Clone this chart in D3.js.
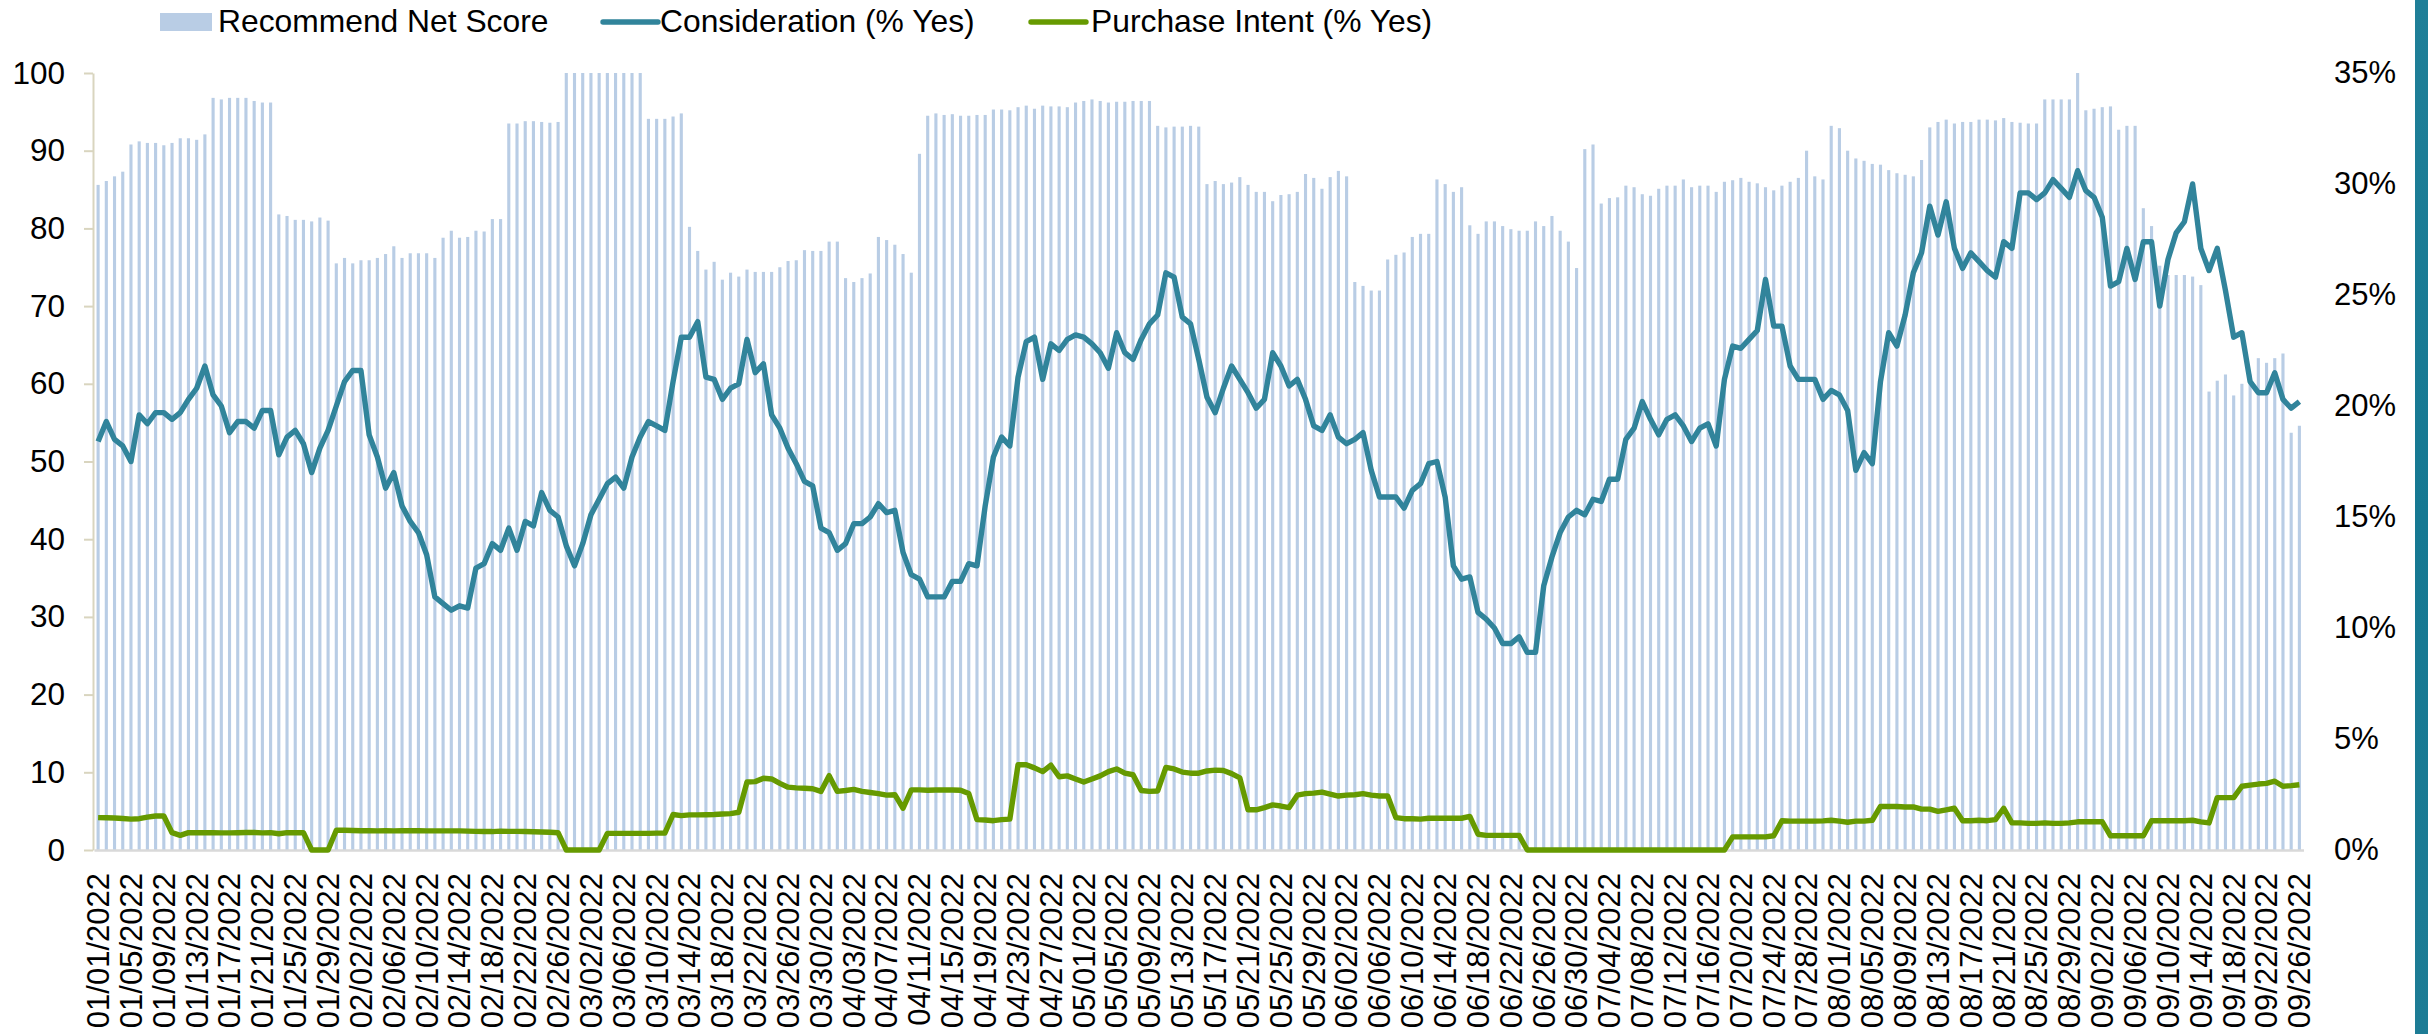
<!DOCTYPE html>
<html>
<head>
<meta charset="utf-8">
<script src="https://cdn.jsdelivr.net/npm/d3@7"></script>
<style>
  html, body { margin: 0; padding: 0; background: #fff; }
  svg { display: block; font-family: "Liberation Sans", Arial, sans-serif; }
</style>
</head>
<body>
<svg class="mySVG" width="2428" height="1034"></svg>
<script>
// daily categories, 01/01/2022 .. 09/26/2022
const days = d3.timeDay.range(new Date(2022, 0, 1), new Date(2022, 8, 27));

const recommend = [
  85.6, 86.1, 86.7, 87.3, 90.8, 91.2, 91.0, 91.0, 90.7, 91.0,
  91.6, 91.6, 91.4, 92.1, 96.8, 96.6, 96.8, 96.8, 96.8, 96.4,
  96.2, 96.2, 81.8, 81.6, 81.1, 81.1, 80.9, 81.4, 81.0, 75.5,
  76.2, 75.5, 75.9, 75.9, 76.2, 76.7, 77.7, 76.2, 76.8, 76.8,
  76.8, 76.2, 78.8, 79.7, 78.8, 78.9, 79.7, 79.6, 81.2, 81.2,
  93.5, 93.5, 93.8, 93.8, 93.7, 93.6, 93.7, 100, 100, 100,
  100, 100, 100, 100, 100, 100, 100, 94.1, 94.1, 94.1,
  94.4, 94.8, 80.2, 77.1, 74.7, 75.7, 73.4, 74.3, 73.8, 74.7,
  74.4, 74.4, 74.4, 75.0, 75.8, 75.9, 77.2, 77.1, 77.1, 78.3,
  78.3, 73.6, 73.1, 73.6, 74.2, 78.9, 78.5, 77.9, 76.7, 74.3,
  89.6, 94.5, 94.8, 94.6, 94.7, 94.5, 94.5, 94.6, 94.6, 95.3,
  95.3, 95.2, 95.6, 95.8, 95.4, 95.8, 95.7, 95.7, 95.6, 96.2,
  96.4, 96.6, 96.4, 96.2, 96.3, 96.3, 96.4, 96.4, 96.4, 93.2,
  93.0, 93.1, 93.1, 93.2, 93.1, 85.7, 86.1, 85.7, 85.9, 86.6,
  85.6, 84.7, 84.7, 83.5, 84.3, 84.4, 84.7, 87.0, 86.5, 85.1,
  86.6, 87.4, 86.7, 73.1, 72.6, 72.0, 72.0, 76.0, 76.6, 76.9,
  78.9, 79.3, 79.3, 86.3, 85.7, 84.7, 85.3, 80.4, 79.3, 80.9,
  80.9, 80.3, 79.9, 79.7, 79.7, 80.9, 80.3, 81.6, 79.7, 78.3,
  74.9, 90.2, 90.8, 83.2, 83.9, 84.0, 85.5, 85.3, 84.4, 84.2,
  85.1, 85.5, 85.5, 86.3, 85.3, 85.5, 85.5, 84.7, 86.0, 86.2,
  86.5, 86.0, 85.8, 85.3, 84.9, 85.5, 86.0, 86.5, 90.0, 86.7,
  86.3, 93.2, 92.9, 90.0, 89.0, 88.7, 88.3, 88.2, 87.5, 87.1,
  86.9, 86.7, 88.8, 93.0, 93.7, 94.0, 93.5, 93.7, 93.7, 94.0,
  94.0, 93.9, 94.2, 93.7, 93.6, 93.5, 93.5, 96.6, 96.6, 96.6,
  96.6, 100, 95.2, 95.4, 95.6, 95.7, 92.7, 93.2, 93.2, 82.6,
  80.3, 75.2, 74.0, 74.0, 74.0, 73.8, 72.7, 59.0, 60.4, 61.2,
  58.5, 60.0, 61.2, 63.3, 62.7, 63.3, 63.9, 53.7, 54.6
];

// % yes
const consideration = [
  18.4, 19.3, 18.5, 18.2, 17.5, 19.6, 19.2, 19.7, 19.7, 19.4,
  19.7, 20.3, 20.8, 21.8, 20.5, 20.0, 18.8, 19.3, 19.3, 19.0,
  19.8, 19.8, 17.8, 18.6, 18.9, 18.3, 17.0, 18.1, 18.9, 20.0,
  21.1, 21.6, 21.6, 18.7, 17.7, 16.3, 17.0, 15.5, 14.8, 14.3,
  13.3, 11.4, 11.1, 10.8, 11.0, 10.9, 12.7, 12.9, 13.8, 13.5,
  14.5, 13.5, 14.8, 14.6, 16.1, 15.3, 15.0, 13.7, 12.8, 13.8,
  15.1, 15.8, 16.5, 16.8, 16.3, 17.7, 18.6, 19.3, 19.1, 18.9,
  21.1, 23.1, 23.1, 23.8, 21.3, 21.2, 20.3, 20.8, 21.0, 23.0,
  21.5, 21.9, 19.6, 19.0, 18.1, 17.4, 16.6, 16.4, 14.5, 14.3,
  13.5, 13.8, 14.7, 14.7, 15.0, 15.6, 15.2, 15.3, 13.4, 12.4,
  12.2, 11.4, 11.4, 11.4, 12.1, 12.1, 12.9, 12.8, 15.5, 17.7,
  18.6, 18.2, 21.3, 22.9, 23.1, 21.2, 22.8, 22.5, 23.0, 23.2,
  23.1, 22.8, 22.4, 21.7, 23.3, 22.4, 22.1, 23.0, 23.7, 24.1,
  26.0, 25.8, 24.0, 23.7, 22.1, 20.4, 19.7, 20.8, 21.8, 21.2,
  20.6, 19.9, 20.3, 22.4, 21.8, 20.9, 21.2, 20.3, 19.1, 18.9,
  19.6, 18.6, 18.3, 18.5, 18.8, 17.1, 15.9, 15.9, 15.9, 15.4,
  16.2, 16.5, 17.4, 17.5, 15.9, 12.8, 12.2, 12.3, 10.7, 10.4,
  10.0, 9.3, 9.3, 9.6, 8.9, 8.9, 11.9, 13.2, 14.3, 15.0,
  15.3, 15.1, 15.8, 15.7, 16.7, 16.7, 18.5, 19.0, 20.2, 19.4,
  18.7, 19.4, 19.6, 19.1, 18.4, 19.0, 19.2, 18.2, 21.2, 22.7,
  22.6, 23.0, 23.4, 25.7, 23.6, 23.6, 21.8, 21.2, 21.2, 21.2,
  20.3, 20.7, 20.5, 19.8, 17.1, 17.9, 17.4, 21.1, 23.3, 22.7,
  24.1, 26.0, 26.9, 29.0, 27.7, 29.2, 27.1, 26.2, 26.9, 26.5,
  26.1, 25.8, 27.4, 27.1, 29.6, 29.6, 29.3, 29.6, 30.2, 29.8,
  29.4, 30.6, 29.7, 29.4, 28.5, 25.4, 25.6, 27.1, 25.7, 27.4,
  27.4, 24.5, 26.6, 27.8, 28.3, 30.0, 27.1, 26.1, 27.1, 25.2,
  23.1, 23.3, 21.1, 20.6, 20.6, 21.5, 20.3, 19.9, 20.2
];

const purchase = [
  1.46, 1.45, 1.44, 1.42, 1.39, 1.41, 1.48, 1.53, 1.53, 0.78,
  0.66, 0.78, 0.78, 0.78, 0.78, 0.77, 0.77, 0.78, 0.79, 0.79,
  0.77, 0.78, 0.73, 0.78, 0.78, 0.78, 0, 0, 0, 0.89,
  0.89, 0.88, 0.87, 0.87, 0.86, 0.87, 0.86, 0.87, 0.87, 0.87,
  0.86, 0.86, 0.86, 0.86, 0.86, 0.85, 0.84, 0.83, 0.83, 0.85,
  0.84, 0.84, 0.83, 0.82, 0.81, 0.80, 0.78, 0, 0, 0,
  0, 0, 0.75, 0.75, 0.75, 0.75, 0.75, 0.75, 0.76, 0.76,
  1.60, 1.55, 1.58, 1.58, 1.59, 1.60, 1.62, 1.64, 1.70, 3.06,
  3.08, 3.23, 3.20, 3.00, 2.83, 2.80, 2.78, 2.76, 2.64, 3.35,
  2.64, 2.68, 2.73, 2.64, 2.59, 2.54, 2.47, 2.49, 1.88, 2.71,
  2.71, 2.69, 2.70, 2.70, 2.70, 2.69, 2.54, 1.37, 1.35, 1.32,
  1.37, 1.39, 3.84, 3.84, 3.70, 3.53, 3.82, 3.30, 3.34, 3.20,
  3.06, 3.20, 3.34, 3.53, 3.65, 3.46, 3.39, 2.68, 2.64, 2.66,
  3.72, 3.65, 3.51, 3.46, 3.46, 3.56, 3.60, 3.58, 3.44, 3.25,
  1.81, 1.81, 1.91, 2.03, 1.98, 1.91, 2.47, 2.54, 2.56, 2.61,
  2.52, 2.43, 2.47, 2.49, 2.54, 2.47, 2.43, 2.43, 1.46, 1.41,
  1.41, 1.39, 1.43, 1.43, 1.43, 1.43, 1.43, 1.51, 0.71, 0.66,
  0.66, 0.66, 0.66, 0.66, 0, 0, 0, 0, 0, 0,
  0, 0, 0, 0, 0, 0, 0, 0, 0, 0,
  0, 0, 0, 0, 0, 0, 0, 0, 0, 0.59,
  0.59, 0.59, 0.59, 0.59, 0.64, 1.32, 1.30, 1.30, 1.30, 1.30,
  1.31, 1.34, 1.30, 1.25, 1.30, 1.30, 1.34, 1.96, 1.96, 1.96,
  1.94, 1.94, 1.84, 1.84, 1.74, 1.81, 1.88, 1.32, 1.32, 1.34,
  1.32, 1.37, 1.88, 1.22, 1.22, 1.20, 1.20, 1.22, 1.20, 1.20,
  1.22, 1.27, 1.27, 1.27, 1.27, 0.64, 0.64, 0.64, 0.64, 0.64,
  1.32, 1.32, 1.32, 1.32, 1.32, 1.34, 1.27, 1.22, 2.36, 2.36,
  2.36, 2.87, 2.92, 2.97, 3.00, 3.10, 2.87, 2.90, 2.94
];

const leftTicks = [0, 10, 20, 30, 40, 50, 60, 70, 80, 90, 100];
const rightTicks = [0, 5, 10, 15, 20, 25, 30, 35];
const labelDays = days.filter((d, i) => i % 4 === 0);

const seriesNames = ["Recommend Net Score", "Consideration (% Yes)", "Purchase Intent (% Yes)"];
const colors = ["#b9cde5", "#31849b", "#669a00"];

const W = 2428, H = 1034;
const plotTop = 73, plotBottom = 850, plotLeft = 93;
const fmtDay = d3.timeFormat("%m/%d/%Y");

const svg = d3.select(".mySVG");

var x = d3.scaleBand()
    .domain(days)
    .range([94, 2303.5])
    .paddingInner(0.62)
    .paddingOuter(0.31);

var yL = d3.scaleLinear().domain([0, 100]).range([plotBottom, plotTop]);
var yR = d3.scaleLinear().domain([0, 35]).range([plotBottom, plotTop]);

// bars
svg.append("g")
  .selectAll("rect")
  .data(days)
  .join("rect")
    .attr("x", d => x(d))
    .attr("width", x.bandwidth())
    .attr("y", (d, i) => yL(recommend[i]))
    .attr("height", (d, i) => yL(0) - yL(recommend[i]))
    .attr("fill", colors[0]);

// left axis
const gL = svg.append("g")
    .attr("transform", `translate(${plotLeft},0)`)
    .call(d3.axisLeft(yL).tickValues(leftTicks).tickSize(9).tickPadding(19).tickSizeOuter(0));
gL.select(".domain").attr("stroke", "#d9d5bf").attr("stroke-width", 2);
gL.selectAll(".tick line").attr("stroke", "#d9d5bf").attr("stroke-width", 2);
gL.selectAll("text").attr("font-size", 31.5).attr("fill", "#000").attr("font-family", null);

// right axis
const gR = svg.append("g")
    .attr("transform", "translate(2334,0)")
    .call(d3.axisRight(yR).tickValues(rightTicks).tickFormat(d => d + "%").tickSize(0).tickPadding(0));
gR.select(".domain").remove();
gR.selectAll("text").attr("font-size", 31).attr("fill", "#000").attr("font-family", null);

// bottom axis
const gB = svg.append("g")
    .attr("transform", `translate(0,${plotBottom})`)
    .call(d3.axisBottom(x).tickValues(labelDays).tickFormat(fmtDay).tickSize(0).tickSizeOuter(0));
gB.select(".domain").attr("stroke", "#d9d9d9").attr("stroke-width", 2.5);
gB.selectAll("text")
    .attr("font-size", 31)
    .attr("font-family", null)
    .attr("fill", "#000")
    .attr("transform", "rotate(-90)")
    .attr("x", -23)
    .attr("y", 0)
    .attr("dy", "0.35em")
    .style("text-anchor", "end");

// lines
const cx = d => x(d) + x.bandwidth() / 2;
const lineOf = vals => d3.line()
    .x(d => cx(d))
    .y((d, i) => yR(vals[i]));

svg.append("path")
    .datum(days)
    .attr("d", lineOf(consideration))
    .attr("fill", "none")
    .attr("stroke", colors[1])
    .attr("stroke-width", 5.4)
    .attr("stroke-linejoin", "round");

svg.append("path")
    .datum(days)
    .attr("d", lineOf(purchase))
    .attr("fill", "none")
    .attr("stroke", colors[2])
    .attr("stroke-width", 5.4)
    .attr("stroke-linejoin", "round");

// legend
const legend = svg.append("g").attr("font-size", 31.8);
legend.append("rect")
    .attr("x", 160).attr("y", 13).attr("width", 52).attr("height", 18)
    .attr("fill", colors[0]);
legend.append("text").attr("x", 218).attr("y", 32).text(seriesNames[0]);
legend.append("line")
    .attr("x1", 603).attr("x2", 658).attr("y1", 22).attr("y2", 22)
    .attr("stroke", colors[1]).attr("stroke-width", 5.4).attr("stroke-linecap", "round");
legend.append("text").attr("x", 660).attr("y", 32).text(seriesNames[1]);
legend.append("line")
    .attr("x1", 1031).attr("x2", 1086).attr("y1", 22).attr("y2", 22)
    .attr("stroke", colors[2]).attr("stroke-width", 5.4).attr("stroke-linecap", "round");
legend.append("text").attr("x", 1091).attr("y", 32).text(seriesNames[2]);

// teal strip at right edge
const grad = svg.append("defs").append("linearGradient")
    .attr("id", "strip").attr("x1", 0).attr("x2", 0).attr("y1", 0).attr("y2", 1);
grad.append("stop").attr("offset", 0).attr("stop-color", "#1f7f98");
grad.append("stop").attr("offset", 0.5).attr("stop-color", "#157892");
grad.append("stop").attr("offset", 1).attr("stop-color", "#1d7c95");
svg.append("rect")
    .attr("x", 2415).attr("y", 0).attr("width", W - 2415).attr("height", H)
    .attr("fill", "url(#strip)");

if (recommend.length !== days.length || consideration.length !== days.length || purchase.length !== days.length)
  console.error("length mismatch", days.length, recommend.length, consideration.length, purchase.length);
</script>
</body>
</html>
